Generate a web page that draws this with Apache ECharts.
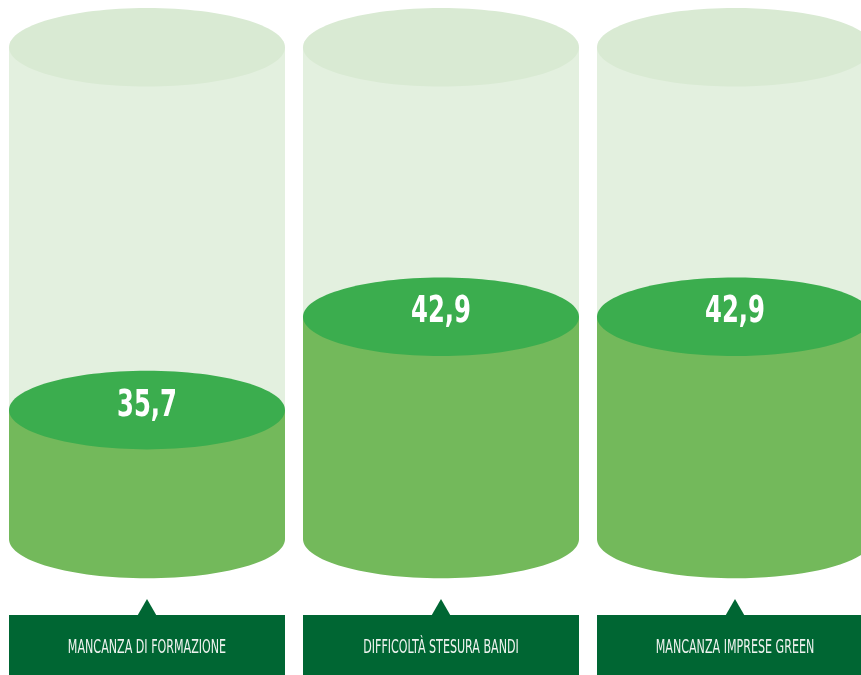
<!DOCTYPE html>
<html>
<head>
<meta charset="utf-8">
<script src="https://cdn.jsdelivr.net/npm/echarts@6/dist/echarts.min.js"></script>
<style>
html,body{margin:0;padding:0;background:#fff;}
#chart{width:861px;height:675px;}
</style>
</head>
<body>
<div id="chart"></div>
<script>
var categories = ['MANCANZA DI FORMAZIONE', 'DIFFICOLTÀ STESURA BANDI', 'MANCANZA IMPRESE GREEN'];
var values = [35.7, 42.9, 42.9];
// visible value range of the (non zero-based) cylinder scale
var axisMin = 25.75;
var axisMax = 63.7;

var chart = echarts.init(document.getElementById('chart'), null, {renderer: 'canvas'});

var RY = 39.3;
var WIDTH_RATIO = 276 / 294;
var FONT = '"DejaVu Sans Condensed", "Liberation Sans Narrow", sans-serif';

function renderItem(params, api) {
  var cat = api.value(0);
  var val = api.value(1);
  var base = api.coord([cat, axisMin]);
  var top = api.coord([cat, axisMax]);
  var pt = api.coord([cat, val]);
  var w = api.size([1, 0])[0] * WIDTH_RATIO;
  var cx = base[0];
  var rx = w / 2;
  return {
    type: 'group',
    children: [
      {type: 'rect', shape: {x: cx - rx, y: top[1], width: w, height: base[1] - top[1]}, style: {fill: '#e3f0df'}},
      {type: 'ellipse', shape: {cx: cx, cy: top[1], rx: rx, ry: RY}, style: {fill: '#d9ead3'}},
      {type: 'ellipse', shape: {cx: cx, cy: base[1], rx: rx, ry: RY}, style: {fill: '#73b95b'}},
      {type: 'rect', shape: {x: cx - rx, y: pt[1], width: w, height: base[1] - pt[1]}, style: {fill: '#73b95b'}},
      {type: 'ellipse', shape: {cx: cx, cy: pt[1], rx: rx, ry: RY}, style: {fill: '#3bad4e'}},
      {type: 'text', x: cx, y: pt[1] - 4, scaleX: 0.73, style: {
        text: String(val).replace('.', ','),
        fill: '#ffffff',
        font: 'bold 37px ' + FONT,
        align: 'center', verticalAlign: 'middle'
      }},
      {type: 'polygon', shape: {points: [[cx - 9.5, base[1] + 76.5], [cx + 9.5, base[1] + 76.5], [cx, base[1] + 60]]}, style: {fill: '#006633'}},
      {type: 'rect', shape: {x: cx - rx, y: base[1] + 76, width: w, height: 60}, style: {fill: '#006633'}},
      {type: 'text', x: cx, y: base[1] + 109, scaleX: 0.65, style: {
        text: categories[cat],
        fill: '#eef3ef',
        font: '19px ' + FONT,
        align: 'center', verticalAlign: 'middle'
      }}
    ]
  };
}

chart.setOption({
  animation: false,
  grid: {left: 0, width: 882, top: 47.3, bottom: 136, outerBoundsMode: 'none', containLabel: false},
  xAxis: {
    type: 'category',
    data: categories,
    axisLine: {show: false},
    axisTick: {show: false},
    axisLabel: {show: false}
  },
  yAxis: {
    type: 'value',
    min: axisMin,
    max: axisMax,
    show: false,
    splitLine: {show: false}
  },
  series: [{
    type: 'custom',
    renderItem: renderItem,
    clip: false,
    encode: {x: 0, y: 1},
    data: values.map(function (v, i) { return [i, v]; })
  }]
});
</script>
</body>
</html>
